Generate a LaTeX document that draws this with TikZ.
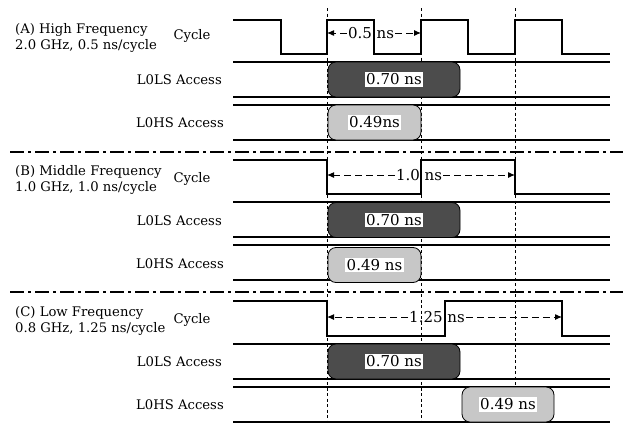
\documentclass[tikz,border=0pt]{standalone}
\usepackage{fontspec}
\setmainfont{DejaVu Serif}
\usetikzlibrary{calc}
\usetikzlibrary{arrows.meta}

\begin{document}
\begin{tikzpicture}[
      x=1pt, y=-1pt,
      txt/.style={font=\fontsize{13.2}{16.5}\selectfont, inner sep=1pt},
      val/.style={font=\fontsize{15}{17}\selectfont, inner sep=1pt},
      lane/.style={line width=1.1pt},
      wave/.style={line width=1.1pt},
      tick/.style={dash pattern=on 3pt off 2.5pt, line width=0.6pt},
      sep/.style={line width=1.6pt, dash pattern=on 14pt off 4pt on 3pt off 4pt},
      slowbox/.style={draw, line width=0.8pt, rounded corners=8pt, fill=black!70,
                      minimum height=35pt, inner sep=0pt},
      fastbox/.style={draw, line width=0.8pt, rounded corners=8pt, fill=black!22,
                      minimum height=35pt, inner sep=0pt},
      tag/.style={val, fill=white, inner sep=1.5pt},
      span/.style={dash pattern=on 7pt off 4pt, line width=1pt,
                   -{Latex[length=7pt,width=6pt]}},
    ]
    \useasboundingbox (0,0) rectangle (623,423);

    % time marks every 0.5 ns
    \foreach \x in {327,421,515}
      \draw[tick] (\x,8) -- (\x,423);

    % section separators
    \draw[sep] (10,152) -- (623,152);
    \draw[sep] (10,292) -- (623,292);

    % lane borders
    \foreach \dy in {0,140,282} {
      \draw[lane] (233,62+\dy) -- (610,62+\dy);
      \draw[lane] (233,97+\dy) -- (610,97+\dy);
      \draw[lane] (233,105+\dy) -- (610,105+\dy);
      \draw[lane] (233,140+\dy) -- (610,140+\dy);
    }

    % (A) high frequency
    \node[txt, anchor=west, align=left] (freqA) at (14,38)
      {(A) High Frequency\\2.0 GHz, 0.5 ns/cycle};
    \node[txt] (cycA) at (192,36) {Cycle};
    \node[txt, anchor=east] (lsA) at (223,80) {L0LS Access};
    \node[txt, anchor=east] (hsA) at (225,123) {L0HS Access};
    \draw[wave] (233,20) -- (281,20) -- (281,54) -- (327,54) -- (327,20)
      -- (374,20) -- (374,54) -- (421,54) -- (421,20) -- (468,20) -- (468,54)
      -- (515,54) -- (515,20) -- (562,20) -- (562,54) -- (610,54);
    \coordinate (a0) at (327,33);
    \coordinate (a1) at (421,33);
    \node[val] (perA) at (371,33) {0.5 ns};
    \draw[span] (perA.west) -- (a0);
    \draw[span] (perA.east) -- (a1);
    \node[slowbox, minimum width=132pt] (slowA) at (394,79.5) {};
    \node[tag] (slowAt) at (slowA) {0.70 ns};
    \node[fastbox, minimum width=93pt] (fastA) at (374.5,122.5) {};
    \node[tag] (fastAt) at (fastA) {0.49ns};

    % (B) middle frequency
    \node[txt, anchor=west, align=left] (freqB) at (14,180)
      {(B) Middle Frequency\\1.0 GHz, 1.0 ns/cycle};
    \node[txt] (cycB) at (192,179) {Cycle};
    \node[txt, anchor=east] (lsB) at (223,221) {L0LS Access};
    \node[txt, anchor=east] (hsB) at (225,264) {L0HS Access};
    \draw[wave] (233,160) -- (327,160) -- (327,194) -- (421,194) -- (421,160)
      -- (515,160) -- (515,194) -- (610,194);
    \coordinate (b0) at (327,175);
    \coordinate (b1) at (515,175);
    \node[val] (perB) at (419,175) {1.0 ns};
    \draw[span] (perB.west) -- (b0);
    \draw[span] (perB.east) -- (b1);
    \node[slowbox, minimum width=132pt] (slowB) at (394,220) {};
    \node[tag] (slowBt) at (slowB) {0.70 ns};
    \node[fastbox, minimum width=93pt] (fastB) at (374.5,265) {};
    \node[tag] (fastBt) at (fastB) {0.49 ns};

    % (C) low frequency
    \node[txt, anchor=west, align=left] (freqC) at (14,321)
      {(C) Low Frequency\\0.8 GHz, 1.25 ns/cycle};
    \node[txt] (cycC) at (192,320) {Cycle};
    \node[txt, anchor=east] (lsC) at (223,362) {L0LS Access};
    \node[txt, anchor=east] (hsC) at (225,405) {L0HS Access};
    \draw[wave] (233,301) -- (327,301) -- (327,336) -- (445,336) -- (445,301)
      -- (562,301) -- (562,336) -- (610,336);
    \coordinate (c0) at (327,317);
    \coordinate (c1) at (562,317);
    \node[val] (perC) at (437,317) {1.25 ns};
    \draw[span] (perC.west) -- (c0);
    \draw[span] (perC.east) -- (c1);
    \node[slowbox, minimum width=132pt] (slowC) at (394,361.5) {};
    \node[tag] (slowCt) at (slowC) {0.70 ns};
    \node[fastbox, minimum width=92pt] (fastC) at (508,404.5) {};
    \node[tag] (fastCt) at (fastC) {0.49 ns};
\end{tikzpicture}
\end{document}
